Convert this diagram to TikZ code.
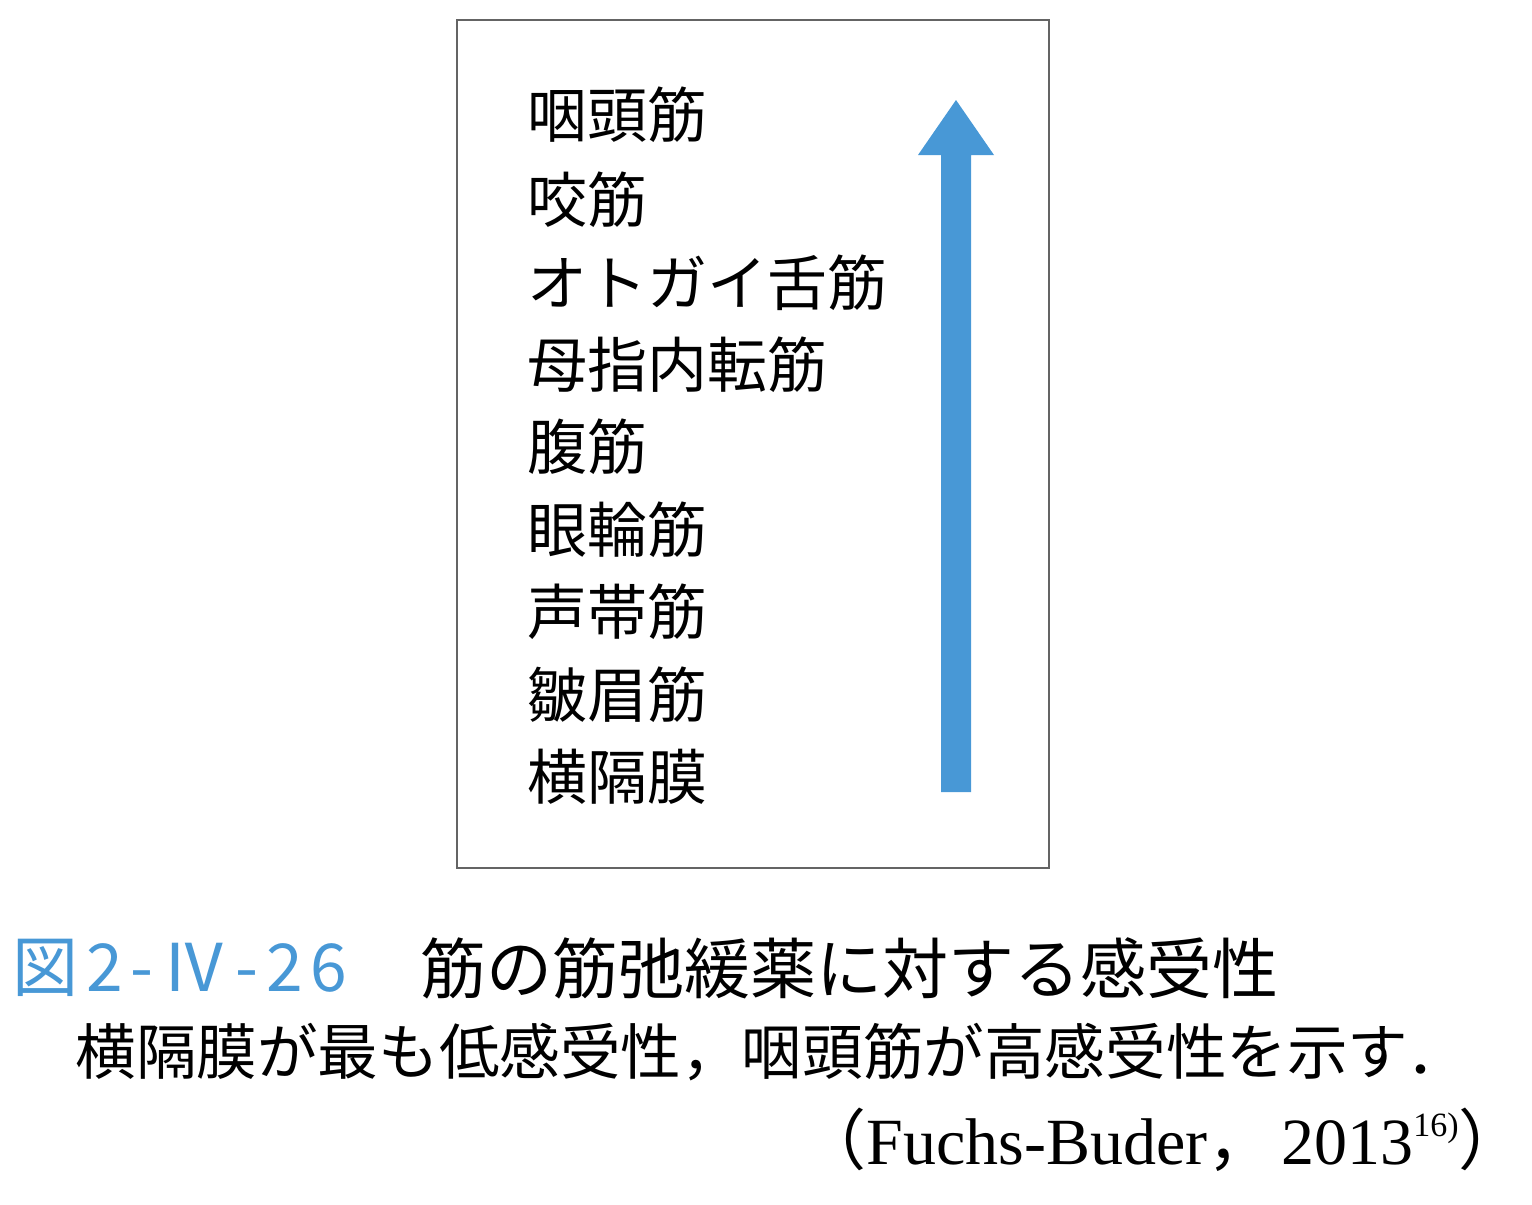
\documentclass[tikz,border=0pt]{standalone}
\usepackage{fontspec}
\newfontfamily\jp{Noto Sans CJK JP}
\newfontfamily\jpwide{Noto Sans CJK JP}[LetterSpace=12]
\newfontfamily\lat{Liberation Serif}
\definecolor{figblue}{RGB}{72,152,214}
\definecolor{framegray}{RGB}{100,100,100}
\tikzset{
  muscle/.style={anchor=west, inner sep=0pt, font=\jp\fontsize{30}{36}\selectfont},
  heading/.style={anchor=west, inner sep=0pt, font=\jp\fontsize{33}{40}\selectfont},
  note/.style={anchor=west, inner sep=0pt, font=\jp\fontsize{30.3}{36}\selectfont}
}
\begin{document}
\begin{tikzpicture}[x=0.5pt,y=0.5pt,yscale=-1,xscale=1]
\useasboundingbox (0,0) rectangle (1532,1205);

\draw [framegray, line width=1pt] (457,20) rectangle (1049,868);

\fill [figblue] (941,792) -- (941,155) -- (918,155) -- (956,100) -- (994,155) -- (971,155) -- (971,792) -- cycle;

\node [muscle] (pharynx) at (527,115) {咽頭筋};
\node [muscle] (masseter) at (527,200) {咬筋};
\node [muscle] (genio) at (527,283) {オトガイ舌筋};
\node [muscle] (pollicis) at (527,365) {母指内転筋};
\node [muscle] (abdomen) at (527,447) {腹筋};
\node [muscle] (orbic) at (527,530) {眼輪筋};
\node [muscle] (vocal) at (527,612) {声帯筋};
\node [muscle] (corrug) at (527,695) {皺眉筋};
\node [muscle] (diaph) at (527,777) {横隔膜};

\node [heading, text=figblue, font=\jpwide\fontsize{33}{40}\selectfont] (fignum) at (12,968) {図2-Ⅳ-26};
\node [heading] (title) at (420,968) {筋の筋弛緩薬に対する感受性};
\node [note] (remark) at (75,1052) {横隔膜が最も低感受性，咽頭筋が高感受性を示す．};
\node [anchor=west, inner sep=0pt, font=\lat\fontsize{33}{38}\selectfont] (source) at (800,1140)
  {{\jp（}Fuchs-Buder{\jp，}\hspace{4pt}2013\raisebox{14pt}{\fontsize{17}{20}\selectfont 16)}{\jp）}};

\end{tikzpicture}
\end{document}
